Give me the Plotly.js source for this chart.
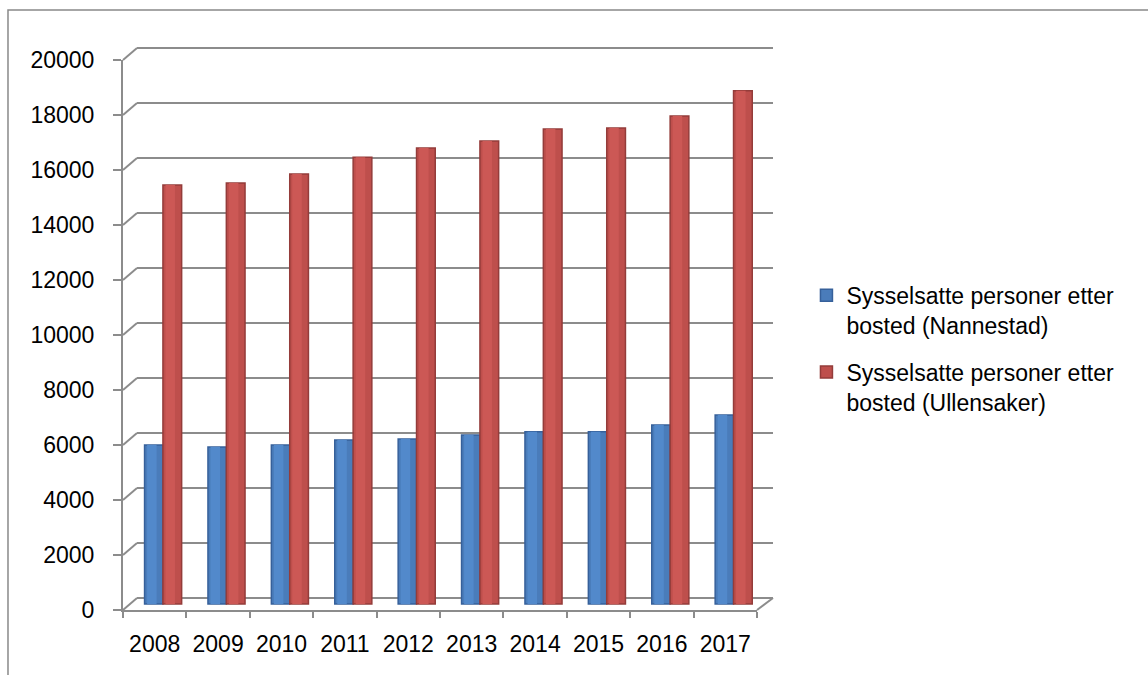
<!DOCTYPE html>
<html>
<head>
<meta charset="utf-8">
<script src="https://cdn.plot.ly/plotly-3.0.1.min.js"></script>
<style>html,body{margin:0;padding:0;background:#fff;}#chart{width:1148px;height:675px;}</style>
</head>
<body>
<div id="chart"></div>
<script>
const years = ['2008','2009','2010','2011','2012','2013','2014','2015','2016','2017'];
const nannestad = [5780, 5710, 5780, 5960, 6000, 6150, 6260, 6260, 6510, 6870];
const ullensaker = [15240, 15310, 15640, 16250, 16580, 16840, 17270, 17310, 17750, 18660];
const seriesNames = ['Sysselsatte personer etter<br>bosted (Nannestad)', 'Sysselsatte personer etter<br>bosted (Ullensaker)'];
const yTicks = [0, 2000, 4000, 6000, 8000, 10000, 12000, 14000, 16000, 18000, 20000];

const yMax = 20000;
const gridColor = '#8C8C8C';
const dx = 14, dy = 12;   // depth offset of the back wall in pixels

const shapes = [];
yTicks.forEach(v => {
  const p = v / yMax;
  shapes.push({type:'line', layer:'below', xref:'paper', yref:'paper',
    xsizemode:'pixel', xanchor:0, x0:dx, x1:650,
    ysizemode:'pixel', yanchor:p, y0:dy, y1:dy,
    line:{color:gridColor, width:2}});
  shapes.push({type:'line', layer:'below', xref:'paper', yref:'paper',
    xsizemode:'pixel', xanchor:0, x0:0, x1:dx,
    ysizemode:'pixel', yanchor:p, y0:0, y1:dy,
    line:{color:gridColor, width:2}});
});
// right edge of the floor
shapes.push({type:'line', layer:'below', xref:'paper', yref:'paper',
  xsizemode:'pixel', xanchor:1, x0:0, x1:16,
  ysizemode:'pixel', yanchor:0, y0:0, y1:dy,
  line:{color:gridColor, width:2}});
// outer chart border
shapes.push({type:'rect', xref:'paper', yref:'paper',
  x0:-0.1814, x1:1.7, y0:1.0909, y1:-0.3,
  line:{color:'#898989', width:1.5}, fillcolor:'rgba(0,0,0,0)'});

const traces = [
  {type:'bar', name:seriesNames[0], x:years, y:nannestad, yaxis:'y',
   offset:-0.16, width:0.29, legendgroup:'a',
   marker:{color:'#4A7CBA', line:{color:'#36609A', width:1.5}}},
  {type:'bar', name:seriesNames[1], x:years, y:ullensaker, yaxis:'y',
   offset:0.13, width:0.295, legendgroup:'b',
   marker:{color:'#BE4F4C', line:{color:'#943C3A', width:1.5}}},
  // cylinder highlight stripes, same data
  {type:'bar', x:years, y:nannestad, yaxis:'y', offset:-0.12, width:0.15,
   showlegend:false, hoverinfo:'skip', legendgroup:'a',
   marker:{color:'#5289CB', line:{width:0}}},
  {type:'bar', x:years, y:ullensaker, yaxis:'y', offset:0.17, width:0.15,
   showlegend:false, hoverinfo:'skip', legendgroup:'b',
   marker:{color:'#CC5855', line:{width:0}}}
];

const layout = {
  width:1148, height:675,
  margin:{l:123, r:391, t:60, b:65},
  paper_bgcolor:'#ffffff', plot_bgcolor:'rgba(0,0,0,0)',
  font:{family:'Liberation Sans, Arial, sans-serif', size:23, color:'#000'},
  barmode:'overlay',
  showlegend:true,
  legend:{x:1.078, y:0.475, xanchor:'left', yanchor:'middle',
    font:{size:23}, valign:'top', traceorder:'grouped', tracegroupgap:14,
    itemwidth:30, bgcolor:'rgba(0,0,0,0)'},
  xaxis:{type:'category', range:[-0.5, 9.5], showgrid:false, showline:true, linecolor:gridColor, linewidth:2,
    ticks:'outside', tickson:'boundaries', ticklen:6, tickwidth:2, tickcolor:gridColor,
    ticklabelstandoff:12, tickfont:{size:23}, fixedrange:true},
  yaxis:{range:[-218, 19782], visible:false, fixedrange:true},
  yaxis2:{range:[0, yMax], overlaying:'y', side:'left', showgrid:false, zeroline:false,
    showline:true, linecolor:gridColor, linewidth:2,
    tickvals:yTicks, ticktext:yTicks.map(String),
    ticks:'outside', ticklen:8, tickwidth:2, tickcolor:gridColor,
    ticklabelstandoff:14, tickfont:{size:23}, fixedrange:true},
  shapes:shapes
};

// invisible helper so yaxis2 is drawn
traces.push({type:'scatter', x:[years[0]], y:[0], yaxis:'y2', mode:'markers',
  marker:{opacity:0}, showlegend:false, hoverinfo:'skip'});

Plotly.newPlot('chart', traces, layout, {displayModeBar:false, staticPlot:true});
</script>
</body>
</html>
